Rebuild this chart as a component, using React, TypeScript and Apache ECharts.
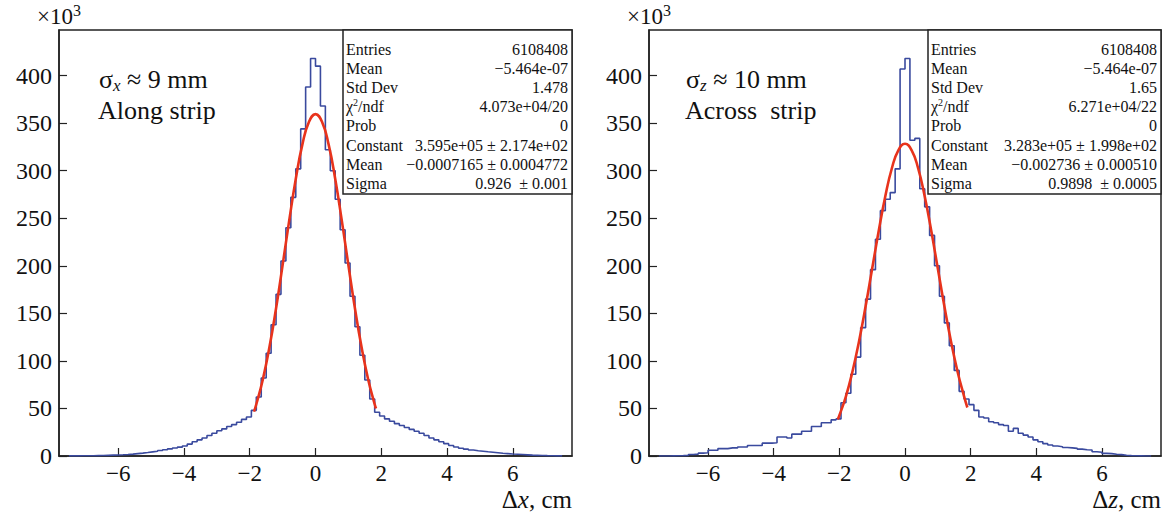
import React, { useEffect, useRef } from "react";
import * as echarts from "echarts";

const FONT = '"Liberation Serif","Times New Roman",serif';
const X_TICKS = [-6, -4, -2, 0, 2, 4, 6];
const Y_TICKS = [0, 50, 100, 150, 200, 250, 300, 350, 400];
const X_MIN = -7.8;
const X_MAX = 7.8;
const Y_MAX = 448;

const BIN_WIDTH = 0.15;
const BIN_FIRST_EDGE = -7.5;

// counts (x10^3) per bin, 100 bins of 0.15 from -7.5 to 7.5
const alongCounts = [
  0.1, 0.15, 0.2, 0.25, 0.3, 0.4, 0.5, 0.7, 0.9, 1.1,
  1.3, 1.6, 2.0, 2.5, 3.0, 3.6, 4.3, 5.0, 5.8, 6.6,
  7.5, 8.4, 9.3, 10.5, 12.5, 15, 17, 19, 21.5, 24,
  26.5, 28.5, 31, 33, 35.5, 38.5, 41, 48, 62, 82,
  108, 138, 170, 205, 240, 272, 302, 344, 388, 418,
  410, 368, 322, 300, 270, 238, 203, 168, 136, 106,
  80, 60, 46, 42, 39, 36.5, 34, 32, 30, 28,
  26, 24, 21.5, 19, 17, 15, 13, 11, 9.5, 8.2,
  7.2, 6.3, 5.6, 5.0, 4.4, 3.9, 3.4, 2.9, 2.5, 2.1,
  1.8, 1.5, 1.2, 0.9, 0.7, 0.5, 0.35, 0.25, 0.15, 0.1,
];
const acrossCounts = [
  0, 0, 0.1, 0.2, 0.4, 0.7, 1.5, 2, 3, 3.5,
  6, 6, 7.8, 7.8, 8.5, 8.5, 9.5, 9.5, 11, 11,
  11, 13.5, 13.5, 14, 20, 20, 19, 23, 23, 26,
  26, 31, 31, 35, 35, 38, 39, 56, 66, 86,
  104, 135, 165, 196, 228, 258, 270, 277, 302, 407,
  418, 332, 334, 281, 262, 232, 200, 168, 140, 116,
  90, 68, 60, 54, 48, 41, 40, 36, 35, 33,
  32, 26, 29, 24, 22, 20, 17, 15, 13, 11.6,
  10.5, 9.8, 9, 8.5, 8, 7.2, 6.5, 6.3, 4.5, 4,
  2.8, 2.5, 1.8, 1.4, 0.8, 0.4, 0.2, 0.1, 0, 0,
];

const alongFitX = [-1.87, -1.8, -1.6, -1.4, -1.2, -1.0, -0.8, -0.6, -0.4, -0.2, 0, 0.2, 0.4, 0.6, 0.8, 1.0, 1.2, 1.4, 1.6, 1.8, 1.84];
const alongFitY = [46.7, 54.4, 80.8, 114.6, 155.2, 200.7, 247.5, 291.4, 327.5, 351.2, 359.5, 351.2, 327.5, 291.4, 247.5, 200.7, 155.2, 114.6, 80.8, 54.4, 49.9];
const acrossFitX = [-2.05, -2.0, -1.8, -1.6, -1.4, -1.2, -1.0, -0.8, -0.6, -0.4, -0.2, 0, 0.2, 0.4, 0.6, 0.8, 1.0, 1.2, 1.4, 1.6, 1.8, 1.9];
const acrossFitY = [38.5, 42.6, 62.8, 88.9, 120.8, 157.4, 197.1, 236.8, 273.2, 302.6, 321.7, 328.3, 321.7, 302.6, 273.2, 236.8, 197.1, 157.4, 120.8, 88.9, 62.8, 51.0];

const statLabels = ["Entries", "Mean", "Std Dev", "χ{sup|2}/ndf", "Prob", "Constant", "Mean", "Sigma"];
const alongStats = ["6108408", "−5.464e-07", "1.478", "4.073e+04/20", "0", "3.595e+05 ± 2.174e+02", "−0.0007165 ± 0.0004772", "0.926  ± 0.001"];
const acrossStats = ["6108408", "−5.464e-07", "1.65", "6.271e+04/22", "0", "3.283e+05 ± 1.998e+02", "−0.002736 ± 0.000510", "0.9898  ± 0.0005"];

const PANELS = [
  { left: 59, width: 513, counts: alongCounts, fitX: alongFitX, fitY: alongFitY, stats: alongStats, boxLeft: 343, sub: "x", sigma: " ≈ 9 mm", label: "Along strip", axisVar: "x", textLeft: 99 },
  { left: 649, width: 512, counts: acrossCounts, fitX: acrossFitX, fitY: acrossFitY, stats: acrossStats, boxLeft: 928, sub: "z", sigma: " ≈ 10 mm", label: "Across  strip", axisVar: "z", textLeft: 686 },
];
const TOP = 30;
const HEIGHT = 426;

function histData(counts: number[]) {
  const d: number[][] = counts.map((v, i) => [BIN_FIRST_EDGE + i * BIN_WIDTH, v]);
  d.push([BIN_FIRST_EDGE + counts.length * BIN_WIDTH, counts[counts.length - 1]]);
  return d;
}

const fmt = (v: number) => (v < 0 ? "−" + Math.abs(v) : String(v));

export default function App() {
  const ref = useRef<HTMLDivElement>(null);
  useEffect(() => {
    if (!ref.current) return;
    const chart = echarts.init(ref.current, undefined, { renderer: "svg" });
    const graphic: any[] = [];
    PANELS.forEach((p) => {
      const right = p.left + p.width;
      graphic.push({
        type: "text", x: p.left - 22, y: 16,
        style: { text: "×10{sup|3}", font: `23px ${FONT}`, fill: "#111", verticalAlign: "middle", rich: { sup: { font: `16px ${FONT}`, padding: [0, 0, 12, 0] } } },
      });
      graphic.push({
        type: "text", x: right, y: 499,
        style: { text: `Δ{it|${p.axisVar}}, cm`, font: `25px ${FONT}`, lineHeight: 20, fill: "#111", align: "right", verticalAlign: "middle", rich: { it: { font: `italic 25px ${FONT}`, lineHeight: 20 } } },
      });
      graphic.push({
        type: "text", x: p.textLeft, y: 79,
        style: { text: `σ{sub|${p.sub}}${p.sigma}`, font: `26px ${FONT}`, fill: "#111", verticalAlign: "middle", rich: { sub: { font: `italic 17px ${FONT}`, padding: [12, 0, 0, 0] } } },
      });
      graphic.push({
        type: "text", x: p.textLeft - 1, y: 110,
        style: { text: p.label, font: `26px ${FONT}`, fill: "#111", verticalAlign: "middle" },
      });
      graphic.push({
        type: "rect", shape: { x: p.boxLeft, y: TOP, width: right - p.boxLeft, height: 164 },
        style: { fill: "#fff", stroke: "#222", lineWidth: 1.5 }, z: 10,
      });
      statLabels.forEach((lab, i) => {
        const y = 49 + i * 19.2;
        graphic.push({
          type: "text", x: p.boxLeft + 3, y, z: 11,
          style: { text: lab, font: `16px ${FONT}`, fill: "#111", verticalAlign: "middle", rich: { sup: { font: `10px ${FONT}`, padding: [0, 0, 8, 0] } } },
        });
        graphic.push({
          type: "text", x: right - 4, y, z: 11,
          style: { text: p.stats[i], font: `16px ${FONT}`, fill: "#111", align: "right", verticalAlign: "middle" },
        });
      });
    });

    const option: any = {
      animation: false,
      backgroundColor: "#fff",
      grid: PANELS.map((p) => ({ left: p.left, top: TOP, width: p.width, height: HEIGHT, show: true, borderColor: "#222", borderWidth: 1.5, backgroundColor: "transparent" })),
      xAxis: PANELS.map((p, i) => ({
        type: "value", gridIndex: i, min: X_MIN, max: X_MAX,
        splitLine: { show: false },
        axisLine: { show: true, onZero: false, lineStyle: { color: "#222", width: 1.5 } },
        axisTick: { show: true, inside: true, length: 8, customValues: X_TICKS, lineStyle: { color: "#222", width: 1.2 } },
        axisLabel: { show: true, customValues: X_TICKS, formatter: fmt, margin: 7, lineHeight: 20, color: "#111", fontFamily: FONT, fontSize: 23 },
      })),
      yAxis: PANELS.map((p, i) => ({
        type: "value", gridIndex: i, min: 0, max: Y_MAX,
        splitLine: { show: false },
        axisLine: { show: true, onZero: false, lineStyle: { color: "#222", width: 1.5 } },
        axisTick: { show: true, inside: true, length: 8, customValues: Y_TICKS, lineStyle: { color: "#222", width: 1.2 } },
        axisLabel: { show: true, customValues: Y_TICKS, margin: 7, color: "#111", fontFamily: FONT, fontSize: 24 },
      })),
      series: PANELS.flatMap((p, i) => [
        {
          type: "line", xAxisIndex: i, yAxisIndex: i, step: "end", showSymbol: false,
          data: histData(p.counts), lineStyle: { color: "#3a4a9e", width: 1.6 }, z: 2,
        },
        {
          type: "line", xAxisIndex: i, yAxisIndex: i, smooth: true, showSymbol: false,
          data: p.fitX.map((x, k) => [x, p.fitY[k]]), lineStyle: { color: "#e8331c", width: 2.6 }, z: 3,
        },
      ]),
      graphic,
    };
    chart.setOption(option);
    return () => chart.dispose();
  }, []);
  return <div ref={ref} style={{ position: "absolute", left: 0, top: 0, width: 1164, height: 518 }} />;
}
